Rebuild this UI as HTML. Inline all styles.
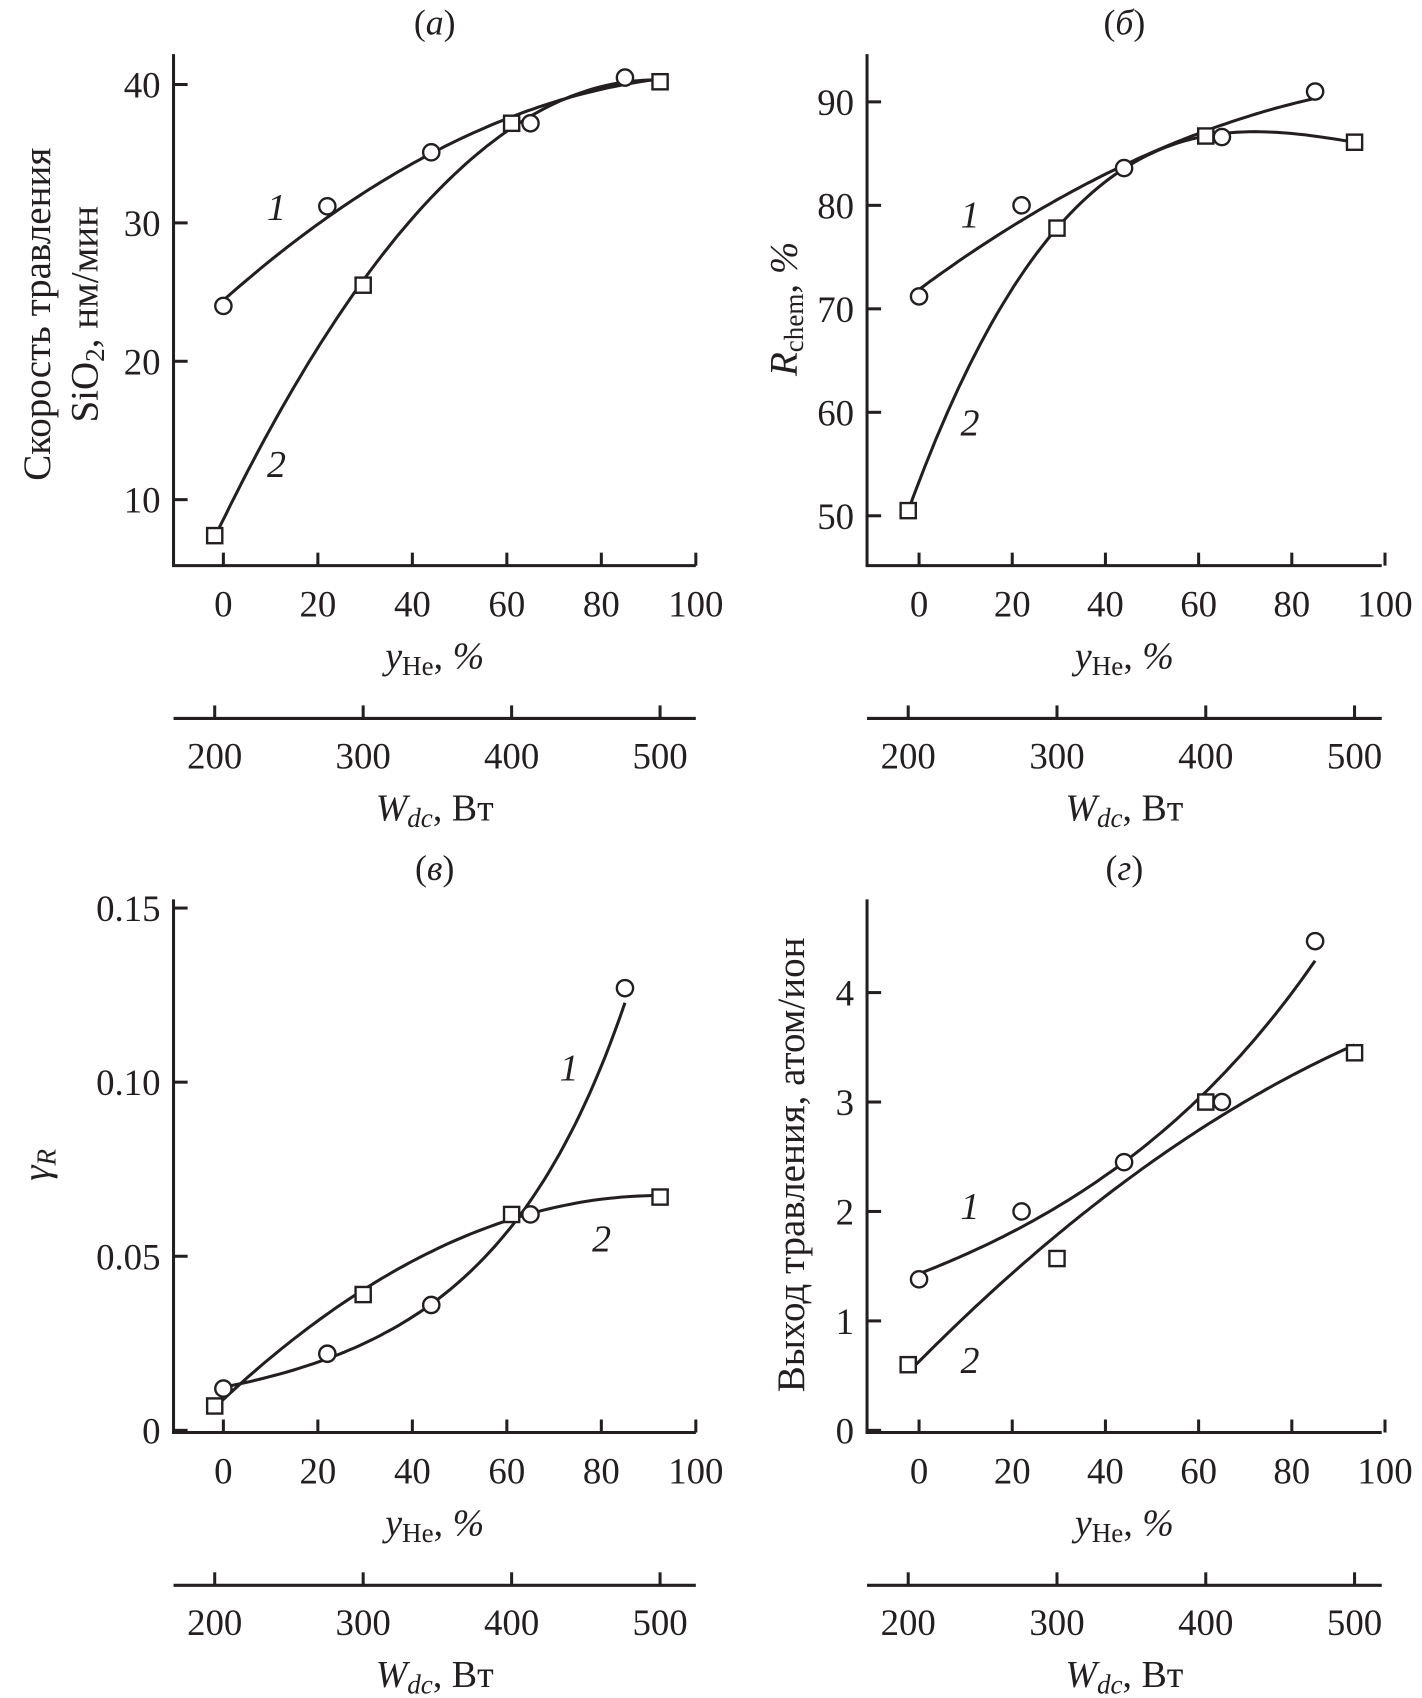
<!DOCTYPE html>
<html><head><meta charset="utf-8"><style>
html,body{margin:0;padding:0;background:#fff}
svg{display:block}
text{font-family:"Liberation Serif",serif;fill:#231f20}
</style></head><body>
<svg id="fig" width="1422" height="1698" viewBox="0 0 1312 1567" xmlns="http://www.w3.org/2000/svg"></svg>
<script>
// ---- data ----
const yHeCircles = [0, 22, 44, 65, 85];
const wSquares = [200, 300, 400, 500];
const xTicks = [0, 20, 40, 60, 80, 100];
const wTicks = [200, 300, 400, 500];
const aCircles = [24, 31.2, 35.1, 37.2, 40.5];
const aSquares = [7.4, 25.5, 37.2, 40.2];
const aYTicks = [10, 20, 30, 40];
const bCircles = [71.2, 80, 83.6, 86.6, 91];
const bSquares = [50.5, 77.8, 86.7, 86.1];
const bYTicks = [50, 60, 70, 80, 90];
const cCircles = [0.012, 0.022, 0.036, 0.062, 0.127];
const cSquares = [0.007, 0.039, 0.062, 0.067];
const cYTicks = [0, 0.05, 0.10, 0.15];
const cYLabels = ["0", "0.05", "0.10", "0.15"];
const dCircles = [1.38, 2.0, 2.45, 3.0, 4.47];
const dSquares = [0.6, 1.57, 3.0, 3.45];
const dYTicks = [0, 1, 2, 3, 4];

const svg = document.getElementById('fig');
const NS = 'http://www.w3.org/2000/svg';
function mk(tag, attrs, parent) {
  const e = document.createElementNS(NS, tag);
  for (const k in attrs) e.setAttribute(k, attrs[k]);
  (parent || svg).appendChild(e);
  return e;
}
function polyfit(xs, ys, deg) {
  const n = deg + 1, A = [], b = [];
  for (let i = 0; i < n; i++) { A.push(new Array(n).fill(0)); b.push(0); }
  for (let k = 0; k < xs.length; k++) {
    for (let i = 0; i < n; i++) {
      b[i] += ys[k] * Math.pow(xs[k], i);
      for (let j = 0; j < n; j++) A[i][j] += Math.pow(xs[k], i + j);
    }
  }
  for (let i = 0; i < n; i++) {
    let p = i; for (let r = i + 1; r < n; r++) if (Math.abs(A[r][i]) > Math.abs(A[p][i])) p = r;
    [A[i], A[p]] = [A[p], A[i]]; [b[i], b[p]] = [b[p], b[i]];
    for (let r = i + 1; r < n; r++) { const f = A[r][i] / A[i][i]; for (let c = i; c < n; c++) A[r][c] -= f * A[i][c]; b[r] -= f * b[i]; }
  }
  const x = new Array(n).fill(0);
  for (let i = n - 1; i >= 0; i--) { let s = b[i]; for (let c = i + 1; c < n; c++) s -= A[i][c] * x[c]; x[i] = s / A[i][i]; }
  return v => x.reduce((s, c, i) => s + c * Math.pow(v, i), 0);
}
function logfit(xs, ys, deg) {
  const f = polyfit(xs, ys.map(Math.log), deg);
  return v => Math.exp(f(v));
}

function panel(cfg) {
  const g = mk('g', {}, svg);
  
  
  const X = v => cfg.x0 + v * cfg.xk;
  const W = w => cfg.w0 + (w - 200) * cfg.wk;
  const Y = cfg.Y;
  const st = {stroke: '#231f20', 'stroke-width': 2.8, fill: 'none'};
  const ax = mk('path', Object.assign({d: `M${cfg.left},${cfg.top} V${cfg.bottom} H${cfg.right}`}, st), g);
  
  
  xTicks.forEach(t => {
    mk('line', Object.assign({x1: X(t), x2: X(t), y1: cfg.bottom, y2: cfg.bottom - 12}, st), g);
    const tx = mk('text', {x: X(t), y: cfg.bottom + 47, 'font-size': 34, 'text-anchor': 'middle'}, g);
    tx.textContent = t;
    
    
  });
  cfg.yTicks.forEach((t, i) => {
    mk('line', Object.assign({x1: cfg.left, x2: cfg.left + 13, y1: Y(t), y2: Y(t)}, st), g);
    const tx = mk('text', {x: cfg.left - 12, y: Y(t) + 12, 'font-size': 34, 'text-anchor': 'end'}, g);
    tx.textContent = cfg.yLabels ? cfg.yLabels[i] : t;
    
    
  });
  const wy = cfg.bottom + 141;
  const wa = mk('line', Object.assign({x1: cfg.left, x2: cfg.right, y1: wy, y2: wy}, st), g);
  
  
  wTicks.forEach(t => {
    mk('line', Object.assign({x1: W(t), x2: W(t), y1: wy, y2: wy - 12}, st), g);
    const tx = mk('text', {x: W(t), y: wy + 46, 'font-size': 34, 'text-anchor': 'middle'}, g);
    tx.textContent = t;
    
    
  });
  const cx = (cfg.left + cfg.right) / 2;
  const xl = mk('text', {x: cx, y: cfg.bottom + 95, 'font-size': 35, 'text-anchor': 'middle'}, g);
  xl.innerHTML = '<tspan font-style="italic">y</tspan><tspan font-size="25" dy="6">He</tspan><tspan dy="-6">, </tspan><tspan font-style="italic">%</tspan>';
  
  
  const wl = mk('text', {x: cx, y: wy + 94, 'font-size': 35, 'text-anchor': 'middle'}, g);
  wl.innerHTML = '<tspan font-style="italic">W</tspan><tspan font-size="25" dy="6" font-style="italic">dc</tspan><tspan dy="-6">, Вт</tspan>';
  
  
  const tl = mk('text', {x: cx, y: cfg.top - 18, 'font-size': 33, 'text-anchor': 'middle'}, g);
  tl.innerHTML = '(<tspan font-style="italic">' + cfg.letter + '</tspan>)';
  
  
  const sqX = wSquares.map(w => (W(w) - cfg.x0) / cfg.xk);
  const f1 = cfg.log1 ? logfit(yHeCircles, cfg.circles, cfg.d1) : polyfit(yHeCircles, cfg.circles, cfg.d1);
  const f2 = polyfit(sqX, cfg.squares, cfg.d2);
  function curve(f, a, b, name) {
    let d = '';
    for (let i = 0; i <= 80; i++) { const v = a + (b - a) * i / 80; d += (i ? 'L' : 'M') + X(v).toFixed(1) + ',' + Y(f(v)).toFixed(1); }
    const p = mk('path', Object.assign({d: d}, st), g);
    
    
  }
  curve(f1, cfg.c1[0], cfg.c1[1], 'curve-1');
  curve(f2, sqX[0], sqX[sqX.length - 1], 'curve-2');
  cfg.circles.forEach((v, i) => {
    const c = mk('circle', {cx: X(yHeCircles[i]), cy: Y(v), r: 7.5, fill: '#fff', stroke: '#231f20', 'stroke-width': 2.2}, g);
    
    
  });
  cfg.squares.forEach((v, i) => {
    const r = mk('rect', {x: W(wSquares[i]) - 7, y: Y(v) - 7, width: 14, height: 14, fill: '#fff', stroke: '#231f20', 'stroke-width': 2.2}, g);
    
    
  });
  [['1', cfg.l1], ['2', cfg.l2]].forEach(([s, p]) => {
    const t = mk('text', {x: p[0], y: p[1], 'font-size': 35, 'font-style': 'italic', 'text-anchor': 'middle'}, g);
    t.textContent = s;
    
    
  });
  return g;
}

panel({name: 'panel-a', letter: 'а', left: 160, right: 642, top: 50, bottom: 522,
  x0: 206, xk: 4.36, w0: 198, wk: 1.37, Y: v => 78 + (40 - v) * 12.77,
  yTicks: aYTicks, circles: aCircles, squares: aSquares, d1: 2, d2: 2, c1: [0, 92],
  l1: [255, 203], l2: [255, 440]});
panel({name: 'panel-b', letter: 'б', left: 800, right: 1275, top: 50, bottom: 522,
  x0: 848, xk: 4.3, w0: 838, wk: 1.373, Y: v => 94 + (90 - v) * 9.55,
  yTicks: bYTicks, circles: bCircles, squares: bSquares, d1: 2, d2: 3, c1: [0, 85],
  l1: [895, 210], l2: [895, 402]});
panel({name: 'panel-c', letter: 'в', left: 160, right: 642, top: 830, bottom: 1322,
  x0: 206, xk: 4.36, w0: 198, wk: 1.37, Y: v => 1320 - v / 0.15 * 482,
  yTicks: cYTicks, yLabels: cYLabels, circles: cCircles, squares: cSquares, d1: 2, log1: true, d2: 2, c1: [0, 85],
  l1: [525, 997], l2: [555, 1155]});
panel({name: 'panel-d', letter: 'г', left: 800, right: 1275, top: 830, bottom: 1322,
  x0: 848, xk: 4.3, w0: 838, wk: 1.373, Y: v => 1320 - v * 101,
  yTicks: dYTicks, circles: dCircles, squares: dSquares, d1: 2, log1: true, d2: 2, c1: [0, 85],
  l1: [895, 1125], l2: [895, 1267]});

function ytitle(x, y, html, name) {
  const t = mk('text', {x: 0, y: 0, 'font-size': 36, 'text-anchor': 'middle', transform: `translate(${x},${y}) rotate(-90)`});
  t.innerHTML = html;
  
  
}
ytitle(46, 290, 'Скорость травления', 'y-axis-title-a-line1');
ytitle(90, 290, 'SiO<tspan font-size="25" dy="6">2</tspan><tspan dy="-6">, нм/мин</tspan>', 'y-axis-title-a-line2');
ytitle(735, 285, '<tspan font-style="italic">R</tspan><tspan font-size="25" dy="6">chem</tspan><tspan dy="-6">, </tspan><tspan font-style="italic">%</tspan>', 'y-axis-title-b');
ytitle(45, 1075, '<tspan font-style="italic">γ</tspan><tspan font-size="25" dy="6" font-style="italic">R</tspan>', 'y-axis-title-c');
ytitle(742, 1075, 'Выход травления, атом/ион', 'y-axis-title-d');
</script>
</body></html>
